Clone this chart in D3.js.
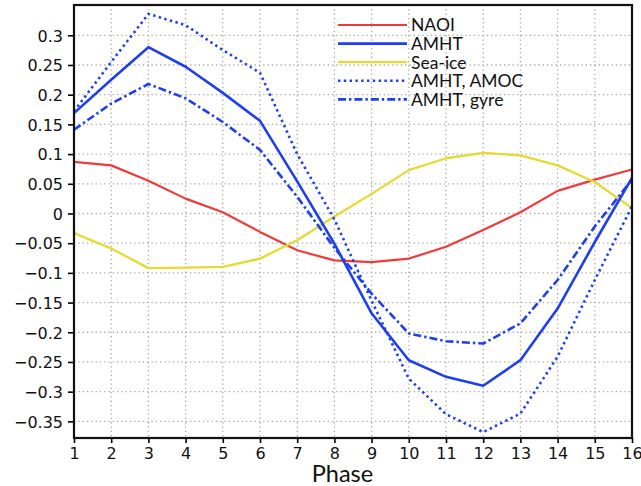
<!DOCTYPE html>
<html>
<head>
<meta charset="utf-8">
<script src="https://cdn.jsdelivr.net/npm/d3@7"></script>
<style>
  html, body { margin: 0; padding: 0; background: #fff; }
  svg { display: block; }
</style>
</head>
<body>
<div id="chart"></div>
<script>
// phase values and the tick labels along x
const phases = [1, 2, 3, 4, 5, 6, 7, 8, 9, 10, 11, 12, 13, 14, 15, 16];
const yTicks = [-0.35, -0.3, -0.25, -0.2, -0.15, -0.1, -0.05, 0, 0.05, 0.1, 0.15, 0.2, 0.25, 0.3];

// series
const naoi     = [0.087, 0.081, 0.055, 0.025, 0.002, -0.031, -0.062, -0.079, -0.082, -0.076, -0.056, -0.028, 0.002, 0.038, 0.057, 0.074];
const seaIce   = [-0.033, -0.059, -0.092, -0.091, -0.090, -0.076, -0.045, -0.005, 0.033, 0.073, 0.093, 0.102, 0.098, 0.081, 0.053, 0.009];
const amht     = [0.169, 0.225, 0.280, 0.247, 0.203, 0.156, 0.054, -0.051, -0.168, -0.247, -0.275, -0.290, -0.247, -0.160, -0.048, 0.060];
const amhtAmoc = [0.172, 0.255, 0.336, 0.317, 0.275, 0.237, 0.100, -0.010, -0.147, -0.278, -0.338, -0.368, -0.337, -0.241, -0.112, 0.012];
const amhtGyre = [0.141, 0.185, 0.218, 0.194, 0.154, 0.107, 0.028, -0.058, -0.135, -0.202, -0.215, -0.219, -0.185, -0.112, -0.022, 0.057];

const width = 641, height = 486;
const margin = { top: 5, right: 9, bottom: 48, left: 74 };
const innerW = width - margin.left - margin.right;
const innerH = height - margin.top - margin.bottom;

const svg = d3.select('#chart').append('svg')
  .attr('width', width)
  .attr('height', height);

const g = svg.append('g')
  .attr('transform', `translate(${margin.left},${margin.top})`);

const x = d3.scaleLinear().domain([1, 16]).range([0, innerW]);
const y = d3.scaleLinear().domain([-0.378, 0.351]).range([innerH, 0]);

// dotted grid
const grid = g.append('g').attr('class', 'grid')
  .attr('stroke', '#a8a8a8')
  .attr('stroke-width', 1.3)
  .attr('stroke-dasharray', '1.3,3');

grid.selectAll('line.v')
  .data(phases)
  .join('line')
  .attr('class', 'v')
  .attr('x1', d => x(d)).attr('x2', d => x(d))
  .attr('y1', 0).attr('y2', innerH);

grid.selectAll('line.h')
  .data(yTicks)
  .join('line')
  .attr('class', 'h')
  .attr('x1', 0).attr('x2', innerW)
  .attr('y1', d => y(d)).attr('y2', d => y(d));

// series
const series = [
  { name: 'NAOI', values: naoi, color: '#ef3b3b', width: 2.2, dash: null },
  { name: 'AMHT', values: amht, color: '#1f3ef0', width: 2.6, dash: null },
  { name: 'Sea-ice', values: seaIce, color: '#e4da30', width: 2.3, dash: null },
  { name: 'AMHT, AMOC', values: amhtAmoc, color: '#1f3ef0', width: 2.6, dash: '2.4,3.4' },
  { name: 'AMHT, gyre', values: amhtGyre, color: '#1f3ef0', width: 2.6, dash: '8,3,2.4,3' }
];
const drawOrder = [0, 2, 1, 3, 4];

const line = d3.line()
  .x((d, i) => x(phases[i]))
  .y(d => y(d));

g.append('g').attr('class', 'series')
  .selectAll('path')
  .data(drawOrder.map(i => series[i]))
  .join('path')
  .attr('fill', 'none')
  .attr('stroke', d => d.color)
  .attr('stroke-width', d => d.width)
  .attr('stroke-dasharray', d => d.dash)
  .attr('stroke-linejoin', 'round')
  .attr('d', d => line(d.values));

// axes
const fmt = d3.format('.2~f');
const xAxis = g.append('g')
  .attr('transform', `translate(0,${innerH})`)
  .call(d3.axisBottom(x).tickValues(phases).tickSize(5).tickSizeOuter(0).tickPadding(5).tickFormat(d3.format('d')));
const yAxis = g.append('g')
  .call(d3.axisLeft(y).tickValues(yTicks).tickSize(6).tickSizeOuter(0).tickPadding(5).tickFormat(fmt));

[xAxis, yAxis].forEach(ax => {
  ax.select('.domain').remove();
  ax.selectAll('.tick line').attr('stroke', '#000').attr('stroke-width', 1.6);
  ax.selectAll('.tick text')
    .attr('fill', '#111')
    .style('font-family', '"DejaVu Sans", sans-serif')
    .style('font-size', '16px');
});
yAxis.selectAll('.tick text').attr('dy', '0.36em');

// frame
g.append('rect')
  .attr('x', 0).attr('y', 0)
  .attr('width', innerW).attr('height', innerH)
  .attr('fill', 'none')
  .attr('stroke', '#111')
  .attr('stroke-width', 2.2);

// x axis title
svg.append('text')
  .attr('x', 342.5)
  .attr('y', 482)
  .attr('text-anchor', 'middle')
  .style('font-family', 'Lato, "Open Sans", sans-serif')
  .style('font-size', '23.5px')
  .attr('fill', '#111')
  .text('Phase');

// legend
const legend = svg.append('g').attr('class', 'legend')
  .attr('transform', 'translate(338,25)');

const items = legend.selectAll('g')
  .data(series)
  .join('g')
  .attr('transform', (d, i) => `translate(0,${i * 18.6})`);

items.append('line')
  .attr('x1', 0).attr('x2', 69)
  .attr('y1', 0).attr('y2', 0)
  .attr('stroke', d => d.color)
  .attr('stroke-width', d => d.width)
  .attr('stroke-dasharray', d => d.dash);

items.append('text')
  .attr('x', 73)
  .attr('y', 0)
  .attr('dy', '0.36em')
  .style('font-family', 'Lato, "Open Sans", sans-serif')
  .style('font-size', '17.5px')
  .attr('fill', '#111')
  .text(d => d.name);
</script>
</body>
</html>
